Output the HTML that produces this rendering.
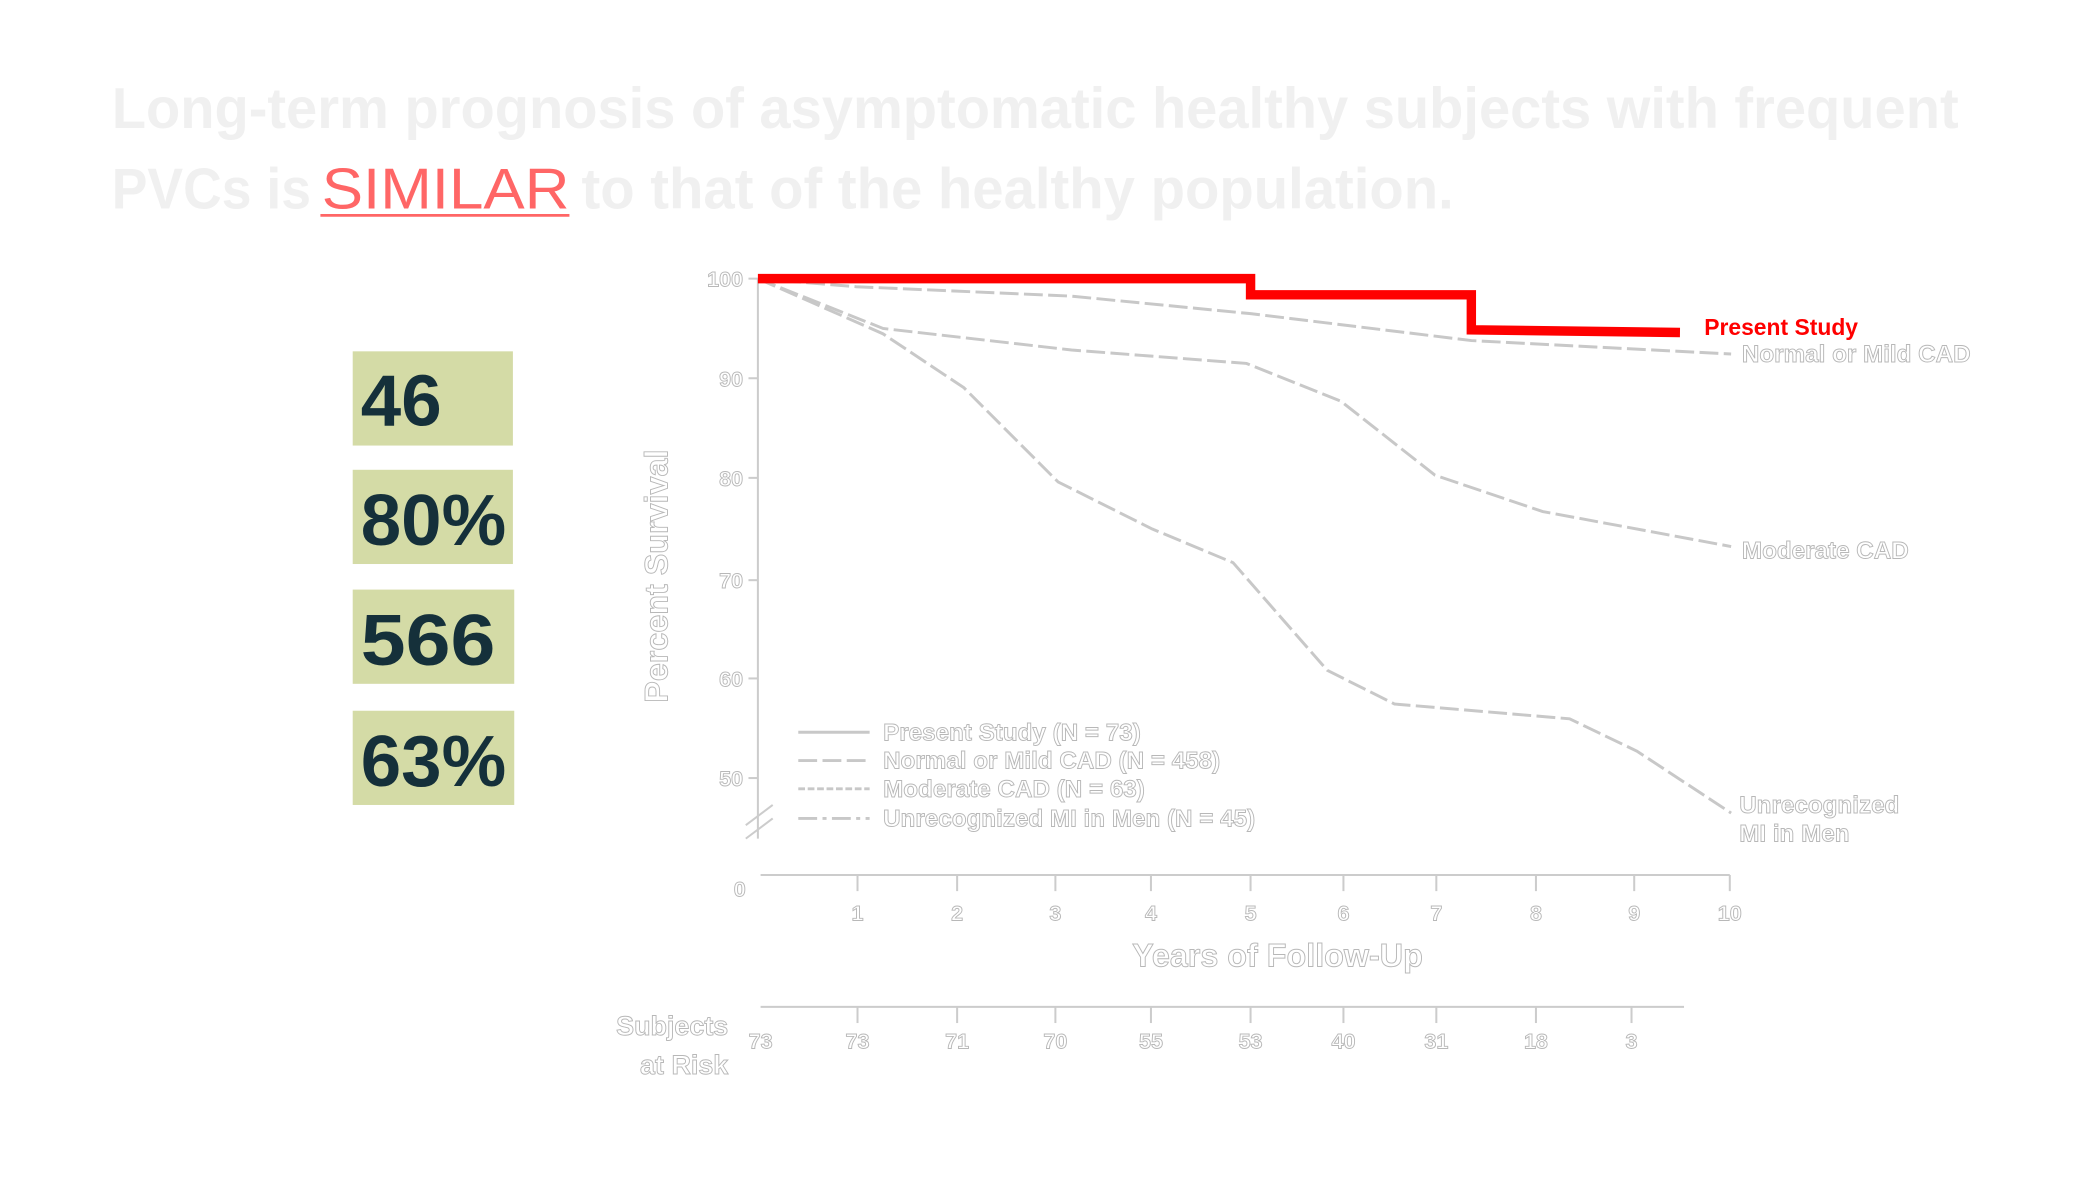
<!DOCTYPE html>
<html><head><meta charset="utf-8"><style>
html,body{margin:0;padding:0;background:#fff;}
svg{display:block;}
.o{fill:#fff;stroke:#b8b8b8;stroke-width:0.7;font-family:"Liberation Sans",sans-serif;font-weight:bold;}
.c{fill:none;stroke:#c8c8c8;stroke-width:2.2;stroke-dasharray:14 4;}
</style></head><body>
<svg width="2100" height="1180" viewBox="0 0 1560 876.6" xmlns="http://www.w3.org/2000/svg">
<rect width="1560" height="877" fill="#fff"/>
<g font-family="Liberation Sans, sans-serif" font-size="43" font-weight="bold" fill="#f0f0f0">
<text x="83" y="95" textLength="1372" lengthAdjust="spacingAndGlyphs">Long-term prognosis of asymptomatic healthy subjects with frequent</text>
<text x="83" y="155" textLength="148" lengthAdjust="spacingAndGlyphs">PVCs is</text>
<text x="432" y="155" textLength="648" lengthAdjust="spacingAndGlyphs">to that of the healthy population.</text>
<text x="239" y="155" fill="#f66" font-weight="normal" textLength="184" lengthAdjust="spacingAndGlyphs">SIMILAR</text>
</g>
<line x1="238" y1="160" x2="423" y2="160" stroke="#f66" stroke-width="2"/>
<g font-family="Liberation Sans, sans-serif" font-size="54" font-weight="bold" fill="#15303a">
<rect x="262" y="261" width="119" height="70" fill="#d4dba6"/><text x="268" y="316">46</text>
<rect x="262" y="349" width="119" height="70" fill="#d4dba6"/><text x="268" y="405" textLength="108" lengthAdjust="spacingAndGlyphs">80%</text>
<rect x="262" y="438" width="120" height="70" fill="#d4dba6"/><text x="268" y="494" textLength="100" lengthAdjust="spacingAndGlyphs">566</text>
<rect x="262" y="528" width="120" height="70" fill="#d4dba6"/><text x="268" y="584" textLength="108" lengthAdjust="spacingAndGlyphs">63%</text>
</g>
<g transform="translate(-4,-2)">
<line x1="567" y1="209" x2="567" y2="625" stroke="#ccc" stroke-width="1.5"/>
<line x1="569" y1="652" x2="1289" y2="652" stroke="#ccc" stroke-width="1.5"/>
<line x1="569" y1="750" x2="1255" y2="750" stroke="#ccc" stroke-width="1.5"/>
<g stroke="#ccc" stroke-width="1.5">
<line x1="560" y1="209" x2="567" y2="209"/><line x1="560" y1="283" x2="567" y2="283"/><line x1="560" y1="357" x2="567" y2="357"/><line x1="560" y1="433" x2="567" y2="433"/><line x1="560" y1="506" x2="567" y2="506"/><line x1="560" y1="580" x2="567" y2="580"/>
<line x1="558" y1="615" x2="578" y2="600"/><line x1="558" y1="625" x2="578" y2="610"/>
</g>
<g class="o" font-size="16" text-anchor="end">
<text x="556" y="215">100</text><text x="556" y="289">90</text><text x="556" y="363">80</text><text x="556" y="439">70</text><text x="556" y="512">60</text><text x="556" y="586">50</text>
<text x="558" y="668">0</text>
</g>
<g class="o" font-size="16" text-anchor="middle">
<text x="641" y="686">1</text><text x="715" y="686">2</text><text x="788" y="686">3</text><text x="859" y="686">4</text><text x="933" y="686">5</text><text x="1002" y="686">6</text><text x="1071" y="686">7</text><text x="1145" y="686">8</text><text x="1218" y="686">9</text><text x="1289" y="686">10</text>
<text x="569" y="781">73</text><text x="641" y="781">73</text><text x="715" y="781">71</text><text x="788" y="781">70</text><text x="859" y="781">55</text><text x="933" y="781">53</text><text x="1002" y="781">40</text><text x="1071" y="781">31</text><text x="1145" y="781">18</text><text x="1216" y="781">3</text>
</g>
<g stroke="#ccc" stroke-width="1.5">
<line x1="641" y1="652" x2="641" y2="664"/><line x1="715" y1="652" x2="715" y2="664"/><line x1="788" y1="652" x2="788" y2="664"/><line x1="859" y1="652" x2="859" y2="664"/><line x1="933" y1="652" x2="933" y2="664"/><line x1="1002" y1="652" x2="1002" y2="664"/><line x1="1071" y1="652" x2="1071" y2="664"/><line x1="1145" y1="652" x2="1145" y2="664"/><line x1="1218" y1="652" x2="1218" y2="664"/><line x1="1289" y1="652" x2="1289" y2="664"/>
<line x1="641" y1="750" x2="641" y2="762"/><line x1="715" y1="750" x2="715" y2="762"/><line x1="788" y1="750" x2="788" y2="762"/><line x1="859" y1="750" x2="859" y2="762"/><line x1="933" y1="750" x2="933" y2="762"/><line x1="1002" y1="750" x2="1002" y2="762"/><line x1="1071" y1="750" x2="1071" y2="762"/><line x1="1145" y1="750" x2="1145" y2="762"/><line x1="1216" y1="750" x2="1216" y2="762"/>
</g>
<text class="o" font-size="24" x="953" y="720" text-anchor="middle">Years of Follow-Up</text>
<text class="o" font-size="24" transform="translate(500,430) rotate(-90)" text-anchor="middle">Percent Survival</text>
<g class="o" font-size="20" text-anchor="end"><text x="545" y="771">Subjects</text><text x="545" y="800">at Risk</text></g>
<polyline class="c" points="567,209 640,215 800,222 933,235 1097,255 1290,265"/>
<polyline class="c" stroke-dasharray="5 2" points="567,209 660,246 800,262 930,272 1000,300 1070,355 1150,382 1290,408"/>
<polyline class="c" stroke-dasharray="14 4 3 4" points="567,209 660,250 720,290 790,360 860,395 920,420 990,500 1040,525 1170,536 1220,560 1290,606"/>
<polyline points="567,209 933,209 933,221 1097,221 1097,247 1252,249" fill="none" stroke="#f00" stroke-width="7"/>
<text x="1270" y="251" font-family="Liberation Sans, sans-serif" font-size="17" font-weight="bold" fill="#f00">Present Study</text>
<g class="o" font-size="18">
<text x="1298" y="271">Normal or Mild CAD</text>
<text x="1298" y="417">Moderate CAD</text>
<text x="1296" y="606">Unrecognized</text>
<text x="1296" y="627">MI in Men</text>
<text x="660" y="552">Present Study (N = 73)</text>
<text x="660" y="573">Normal or Mild CAD (N = 458)</text>
<text x="660" y="594">Moderate CAD (N = 63)</text>
<text x="660" y="616">Unrecognized MI in Men (N = 45)</text>
</g>
<g stroke="#c8c8c8" stroke-width="2.2" fill="none">
<line x1="597" y1="546" x2="650" y2="546"/>
<line x1="597" y1="567" x2="650" y2="567" stroke-dasharray="14 4"/>
<line x1="597" y1="588" x2="650" y2="588" stroke-dasharray="5 2"/>
<line x1="597" y1="610" x2="650" y2="610" stroke-dasharray="14 4 3 4"/>
</g>
</g>
</svg>
</body></html>
